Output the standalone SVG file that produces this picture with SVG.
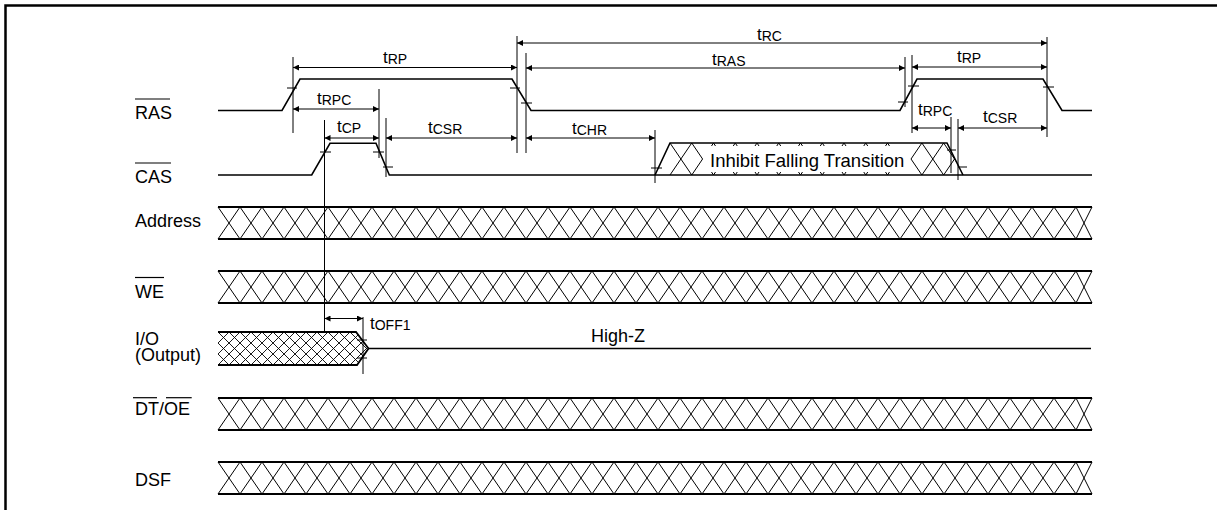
<svg xmlns="http://www.w3.org/2000/svg" xmlns:xlink="http://www.w3.org/1999/xlink" width="1217" height="510" viewBox="0 0 1217 510">
<style>
.lbl{font-family:"Liberation Sans",Arial,sans-serif;font-size:18px;fill:#000}
.tm{font-family:"Liberation Sans",Arial,sans-serif;font-size:17px;fill:#000}
.sub{font-size:14px}
.sig{fill:none;stroke:#000;stroke-width:1.6;stroke-linejoin:miter}
.edge{fill:none;stroke:#000;stroke-width:1.8}
.xl{fill:none;stroke:#000;stroke-width:1}
.ref{fill:none;stroke:#000;stroke-width:1}
.dim{fill:none;stroke:#000;stroke-width:1;marker-start:url(#ah);marker-end:url(#ah)}
.ovl{stroke:#000;stroke-width:1.2}
</style>
<defs>
<marker id="ah" viewBox="0 0 10 10" refX="10" refY="5" markerWidth="9" markerHeight="6" markerUnits="userSpaceOnUse" orient="auto-start-reverse">
<path d="M0,0 L10,5 L0,10 z" fill="#000"/>
</marker>
<pattern id="xh" patternUnits="userSpaceOnUse" x="218" y="332" width="11" height="11">
<path d="M0,0 L11,11 M11,0 L0,11" stroke="#000" stroke-width="0.9" fill="none"/>
</pattern>
<clipPath id="casclip"><polygon points="655,175 670,143 947,143 963,175"/></clipPath>
<g id="busX">
<polyline class="xl" points="218,0 240,32 262,0 284,32 306,0 328,32 350,0 372,32 394,0 416,32 438,0 460,32 482,0 504,32 526,0 548,32 570,0 592,32 614,0 636,32 658,0 680,32 702,0 724,32 746,0 768,32 790,0 812,32 834,0 856,32 878,0 900,32 922,0 944,32 966,0 988,32 1010,0 1032,32 1054,0 1076,32 1092,0"/>
<polyline class="xl" points="218,32 240,0 262,32 284,0 306,32 328,0 350,32 372,0 394,32 416,0 438,32 460,0 482,32 504,0 526,32 548,0 570,32 592,0 614,32 636,0 658,32 680,0 702,32 724,0 746,32 768,0 790,32 812,0 834,32 856,0 878,32 900,0 922,32 944,0 966,32 988,0 1010,32 1032,0 1054,32 1076,0 1092,32"/>
<path class="edge" d="M218,0 H1092 M218,32 H1092"/>
</g>
</defs>
<rect x="0" y="0" width="1217" height="510" fill="#fff"/>
<path d="M5.5,510 V5.5 H1217" fill="none" stroke="#000" stroke-width="2.5"/>

<g id="ras">
<text class="lbl" x="135" y="119">RAS</text>
<line class="ovl" x1="135" y1="99" x2="170" y2="99"/>
<path class="sig" d="M218,110.5 H282 L300,79 H512 L531,110.5 H900 L917,79 H1043 L1062,110.5 H1092"/>
</g>

<g id="cas">
<text class="lbl" x="135" y="183">CAS</text>
<line class="ovl" x1="135" y1="163" x2="171" y2="163"/>
<path class="sig" d="M218,175 H311.7 L330,143.3 H376 L389.3,175 H1092"/>
<path class="sig" d="M655,175 L670,143 H947 L963,175"/>
<g clip-path="url(#casclip)">
<path class="xl" d="M670,143 L691.75,175 M670,175 L691.75,143 M691.75,143 L702.6,159 L691.75,175"/>
<path class="xl" d="M911,159 L921.9,143 M911,159 L921.9,175 M921.9,143 L943.65,175 M921.9,175 L943.65,143 M943.65,143 L965.4,175 M943.65,175 L965.4,143"/>
<path class="xl" d="M711.5,146 L713.5,143 L715.5,146 M733.25,146 L735.25,143 L737.25,146 M755,146 L757,143 L759,146 M776.75,146 L778.75,143 L780.75,146 M798.5,146 L800.5,143 L802.5,146 M820.25,146 L822.25,143 L824.25,146 M842,146 L844,143 L846,146 M863.75,146 L865.75,143 L867.75,146 M885.5,146 L887.5,143 L889.5,146"/>
<path class="xl" d="M711.5,172 L713.5,175 L715.5,172 M733.25,172 L735.25,175 L737.25,172 M755,172 L757,175 L759,172 M776.75,172 L778.75,175 L780.75,172 M798.5,172 L800.5,175 L802.5,172 M820.25,172 L822.25,175 L824.25,172 M842,172 L844,175 L846,172 M863.75,172 L865.75,175 L867.75,172 M885.5,172 L887.5,175 L889.5,172"/>
</g>
<text class="lbl" x="710" y="166.5" style="font-size:18.5px">Inhibit Falling Transition</text>
</g>

<g id="address">
<text class="lbl" x="135" y="227">Address</text>
<use xlink:href="#busX" href="#busX" transform="translate(0,207)"/>
</g>

<g id="we">
<text class="lbl" x="135" y="298">WE</text>
<line class="ovl" x1="135" y1="277.5" x2="164" y2="277.5"/>
<use xlink:href="#busX" href="#busX" transform="translate(0,271)"/>
</g>

<g id="io">
<text class="lbl" x="135" y="345">I/O</text>
<text class="lbl" x="135" y="361">(Output)</text>
<path d="M218,332 H356 L368.5,348.5 L357,365 H218 Z" fill="url(#xh)" stroke="none"/>
<path class="edge" d="M218,332 H356 L368.5,348.5 L357,365 H218"/>
<path class="sig" d="M368.5,348.5 H1091"/>
<text class="lbl" x="591" y="342">High-Z</text>
</g>

<g id="dtoe">
<text class="lbl" x="135" y="415">DT/OE</text>
<line class="ovl" x1="133" y1="397.7" x2="157" y2="397.7"/>
<line class="ovl" x1="166" y1="397.7" x2="191.7" y2="397.7"/>
<use xlink:href="#busX" href="#busX" transform="translate(0,398)"/>
</g>

<g id="dsf">
<text class="lbl" x="135" y="486">DSF</text>
<use xlink:href="#busX" href="#busX" transform="translate(0,462)"/>
</g>

<g id="connectors">
<path class="ref" d="M293,57 V133 M517,36 V153 M526,53 V153 M379,89 V158 M324.5,120 V332 M386,118 V177 M655,130 V183 M905,57 V107 M912,55 V133 M951,117 V173 M958,119 V180 M1047,37 V137 M363,317 V374"/>
<path class="ref" d="M287,88 H297 M320,152 H331 M373,152 H384 M383,167 H393 M510,88 H520 M521,103 H532 M651,168 H662 M898,102 H908 M908,86 H919 M1043,87 H1054 M947,150 H956 M958,167 H967 M357,340 H367 M357,358 H367"/>
<line class="dim" x1="517" y1="43" x2="1047" y2="43"/>
<line class="dim" x1="293" y1="67.5" x2="517" y2="67.5"/>
<line class="dim" x1="526" y1="68" x2="905" y2="68"/>
<line class="dim" x1="912" y1="67" x2="1047" y2="67"/>
<line class="dim" x1="293" y1="109" x2="379" y2="109"/>
<line class="dim" x1="324.5" y1="138" x2="379" y2="138"/>
<line class="dim" x1="386" y1="138" x2="517" y2="138"/>
<line class="dim" x1="526" y1="138" x2="655" y2="138"/>
<line class="dim" x1="912" y1="128" x2="951" y2="128"/>
<line class="dim" x1="958" y1="128" x2="1047" y2="128"/>
<line class="dim" x1="324.5" y1="318.5" x2="363" y2="318.5"/>
<text class="tm" x="757" y="40">t<tspan class="sub" dy="1">RC</tspan></text>
<text class="tm" x="383" y="63">t<tspan class="sub" dy="1">RP</tspan></text>
<text class="tm" x="712" y="65">t<tspan class="sub" dy="1">RAS</tspan></text>
<text class="tm" x="957" y="62">t<tspan class="sub" dy="1">RP</tspan></text>
<text class="tm" x="317" y="104">t<tspan class="sub" dy="1">RPC</tspan></text>
<text class="tm" x="918" y="115">t<tspan class="sub" dy="1">RPC</tspan></text>
<text class="tm" x="337" y="132">t<tspan class="sub" dy="1">CP</tspan></text>
<text class="tm" x="428" y="133">t<tspan class="sub" dy="1">CSR</tspan></text>
<text class="tm" x="572" y="134">t<tspan class="sub" dy="1">CHR</tspan></text>
<text class="tm" x="983" y="122">t<tspan class="sub" dy="1">CSR</tspan></text>
<text class="tm" x="370" y="329">t<tspan class="sub" dy="1">OFF1</tspan></text>
</g>
</svg>
